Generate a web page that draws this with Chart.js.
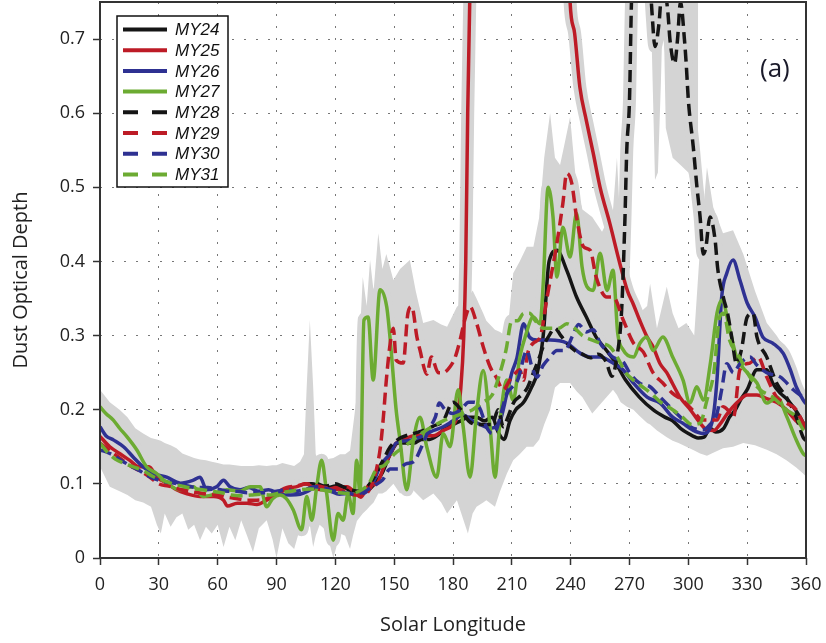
<!DOCTYPE html>
<html>
<head>
<meta charset="utf-8">
<script src="https://cdn.jsdelivr.net/npm/chart.js@4.4.1/dist/chart.umd.min.js"></script>
<style>
body { margin: 0; background: #fff; }
canvas { display: block; }
</style>
</head>
<body>
<canvas id="dust" width="826" height="643"></canvas>
<script>
// [Ls, tau] pairs
const my24 = [[104,0.10],[108,0.10],[112,0.097],[116,0.095],[120,0.097],[124,0.096],[128,0.09],[132,0.088],[136,0.09],[140,0.1],[144,0.115],[148,0.14],[152,0.155],[156,0.155],[160,0.155],[164,0.16],[168,0.16],[172,0.165],[176,0.175],[180,0.18],[184,0.185],[188,0.19],[192,0.19],[196,0.185],[200,0.19],[203,0.17],[206,0.16],[209,0.185],[212,0.2],[216,0.21],[220,0.23],[223,0.25],[226,0.3],[229,0.4],[233,0.415],[238,0.388],[243,0.352],[248,0.325],[253,0.298],[258,0.281],[263,0.263],[268,0.24],[275,0.217],[282,0.2],[288,0.19],[292,0.185],[296,0.175],[300,0.168],[305,0.162],[308,0.163],[311,0.175],[314,0.17],[318,0.175],[321,0.19],[324,0.2],[327,0.215],[330,0.227],[335,0.254],[340,0.254],[343,0.236],[347,0.222],[350,0.215],[353.5,0.204],[357,0.19],[360,0.175]];

const my25 = [[0,0.164],[5,0.15],[10,0.141],[15,0.132],[20,0.123],[25,0.123],[29,0.109],[34,0.101],[39,0.092],[44,0.087],[51,0.083],[58,0.083],[63,0.078],[65,0.07],[70,0.074],[75,0.074],[80,0.072],[85,0.078],[90,0.085],[95,0.093],[100,0.096],[105,0.1],[110,0.093],[115,0.092],[120,0.095],[126,0.096],[130,0.088],[133,0.082],[137,0.098],[141,0.1],[145,0.125],[148,0.14],[151,0.155],[155,0.16],[160,0.165],[165,0.165],[170,0.165],[175,0.172],[180,0.18],[182,0.19],[184,0.23],[185.5,0.3],[186.5,0.4],[187.5,0.6],[188.6,0.76],[190,1.0],[215,1.6],[237,1.0],[239.7,0.75],[242,0.708],[244.7,0.635],[248,0.59],[251.5,0.546],[255,0.5],[260,0.451],[265,0.398],[269,0.36],[272,0.342],[275,0.322],[279,0.298],[282,0.285],[285.6,0.262],[289,0.25],[292,0.235],[295.7,0.217],[301,0.2],[306,0.182],[309.4,0.173],[313,0.172],[316,0.18],[320,0.195],[325,0.21],[330,0.22],[335,0.22],[340,0.215],[345,0.21],[350,0.2],[355,0.185],[360,0.175]];

const my26 = [[0,0.177],[3,0.165],[7,0.159],[12,0.15],[17,0.136],[22,0.123],[27,0.114],[34,0.109],[41,0.101],[47.6,0.105],[51,0.109],[54.4,0.092],[59.5,0.096],[63,0.105],[66.3,0.096],[71.4,0.092],[76,0.095],[81,0.09],[86,0.092],[92,0.086],[97,0.085],[102,0.086],[106,0.09],[110,0.096],[114,0.095],[118,0.09],[122,0.086],[127,0.087],[134,0.087],[139,0.1],[143,0.125],[148,0.141],[151,0.155],[156,0.158],[160,0.16],[165,0.165],[170,0.172],[175,0.177],[180,0.185],[185,0.193],[190,0.185],[194,0.18],[199,0.175],[204,0.185],[207.5,0.222],[210,0.25],[212.6,0.27],[216,0.316],[219,0.298],[222.7,0.294],[229.5,0.294],[238,0.29],[245,0.276],[250,0.271],[255,0.271],[261.6,0.263],[266.7,0.254],[272,0.236],[279,0.217],[285.6,0.209],[292,0.19],[297,0.182],[302,0.173],[307.5,0.168],[312,0.182],[314.6,0.24],[317,0.352],[319.6,0.384],[322.8,0.402],[326.3,0.375],[330,0.344],[334,0.325],[338,0.298],[343,0.29],[348.4,0.276],[352,0.254],[355,0.231],[358.6,0.213],[360,0.208]];

const my27 = [[0,0.204],[3,0.195],[6.8,0.186],[10,0.175],[13.6,0.164],[18.7,0.146],[23.8,0.123],[28.9,0.114],[34,0.101],[40.8,0.092],[47.6,0.096],[52.7,0.083],[59.5,0.087],[64.6,0.092],[71.4,0.09],[76.5,0.096],[81.6,0.096],[85,0.069],[88,0.08],[91.8,0.085],[95,0.08],[98.5,0.065],[102.8,0.038],[105.4,0.083],[108,0.051],[110.5,0.096],[113,0.132],[115.6,0.087],[118.9,0.024],[121.4,0.06],[124,0.051],[126.5,0.087],[129,0.06],[130.9,0.132],[132.6,0.087],[134.6,0.321],[136.7,0.325],[139.3,0.24],[142.8,0.362],[146.2,0.339],[148,0.294],[151,0.2],[153,0.159],[156.4,0.092],[159.8,0.159],[163.2,0.19],[166.6,0.15],[171.7,0.109],[175,0.168],[178.5,0.15],[182.6,0.227],[185.2,0.177],[188.7,0.109],[192,0.195],[195.4,0.253],[198.9,0.177],[201.4,0.109],[204,0.186],[207.4,0.24],[210.7,0.213],[214,0.27],[217,0.3],[220.9,0.325],[224.4,0.316],[226,0.37],[228.5,0.5],[231,0.46],[233,0.379],[236,0.446],[239.7,0.406],[243,0.465],[245.8,0.393],[248.3,0.366],[251.5,0.361],[255,0.411],[258.5,0.361],[261.6,0.388],[264,0.303],[266.7,0.281],[272,0.271],[275.4,0.29],[278.8,0.298],[282,0.28],[287,0.298],[292,0.271],[297.3,0.24],[300.8,0.209],[304.3,0.231],[307.7,0.213],[311.2,0.262],[314.6,0.33],[317.1,0.348],[321.2,0.307],[324.6,0.271],[330,0.25],[335,0.236],[340,0.209],[345.2,0.217],[350.3,0.19],[354.4,0.163],[358.5,0.141],[360,0.138]];

const my28 = [[111,0.1],[115,0.097],[120,0.1],[124,0.096],[128,0.092],[132,0.09],[136,0.095],[140,0.11],[144,0.13],[148,0.15],[152,0.16],[156,0.165],[160,0.168],[165,0.172],[170,0.178],[175,0.185],[180,0.21],[184,0.2],[188,0.185],[192,0.18],[196,0.18],[200,0.18],[203,0.2],[205.7,0.177],[208,0.19],[211,0.21],[215,0.22],[218,0.23],[221,0.25],[223,0.263],[226,0.285],[229,0.3],[232,0.31],[235,0.3],[238,0.29],[242,0.28],[246,0.275],[250,0.27],[254,0.275],[258,0.265],[261,0.245],[263.5,0.27],[266,0.335],[267.7,0.46],[268.6,0.55],[270,0.618],[271,0.75],[273,0.85],[277,0.9],[280,0.8],[281.5,0.735],[283,0.69],[285,0.72],[287,0.78],[289.6,0.735],[290.6,0.7],[293,0.667],[294.5,0.7],[296,0.75],[298,0.7],[299,0.663],[300,0.618],[302.5,0.555],[304.4,0.5],[306,0.46],[307.6,0.41],[309,0.42],[311,0.46],[313.6,0.43],[315,0.39],[318,0.35],[320,0.33],[322,0.3],[324.6,0.262],[327,0.28],[330,0.325],[333,0.33],[335,0.298],[340,0.271],[345,0.236],[350,0.217],[355,0.19],[358.5,0.163],[360,0.158]];

const my29 = [[0,0.155],[5,0.145],[10,0.135],[15,0.125],[20,0.118],[25,0.11],[30,0.1],[35,0.097],[40,0.093],[45,0.09],[50,0.088],[55,0.086],[60,0.085],[65,0.082],[70,0.08],[75,0.078],[80,0.078],[85,0.08],[90,0.088],[95,0.095],[100,0.097],[105,0.1],[110,0.098],[115,0.095],[120,0.093],[125,0.09],[130,0.085],[134,0.085],[138,0.095],[141,0.12],[143,0.15],[144.5,0.19],[146,0.24],[148,0.29],[149.6,0.31],[151,0.267],[154.6,0.263],[157,0.33],[159,0.339],[161.6,0.298],[163.2,0.28],[166.6,0.248],[169,0.271],[172.5,0.25],[175,0.25],[178.5,0.258],[181,0.27],[183.6,0.294],[186,0.321],[188.7,0.339],[192,0.317],[195.4,0.285],[198.9,0.258],[202,0.244],[205.6,0.227],[209,0.24],[212,0.25],[214,0.254],[216,0.24],[218,0.275],[221,0.29],[224.4,0.298],[228,0.352],[233,0.425],[236,0.478],[238,0.519],[240.6,0.505],[243,0.46],[246.5,0.42],[250,0.415],[253,0.379],[258.4,0.352],[261.7,0.352],[266.8,0.321],[272,0.29],[277,0.278],[282,0.25],[287,0.236],[292,0.222],[297,0.213],[302,0.2],[307.5,0.186],[311,0.186],[314.6,0.186],[317.7,0.204],[320,0.2],[323,0.19],[326.3,0.254],[331.4,0.263],[335.5,0.271],[340,0.244],[345,0.217],[350,0.209],[355,0.2],[358.6,0.182],[360,0.178]];

const my30 = [[0,0.146],[5,0.141],[10,0.133],[15,0.125],[20,0.118],[25,0.11],[30,0.105],[35,0.102],[40,0.1],[45,0.097],[50,0.095],[55,0.095],[60,0.093],[65,0.09],[70,0.09],[75,0.088],[80,0.088],[85,0.088],[90,0.09],[95,0.092],[100,0.09],[105,0.093],[110,0.096],[115,0.094],[120,0.09],[125,0.088],[130,0.086],[135,0.09],[140,0.098],[144,0.105],[148,0.12],[152,0.12],[156,0.127],[160,0.13],[164,0.15],[168,0.175],[171,0.19],[173,0.209],[176,0.2],[180,0.195],[184,0.2],[188,0.21],[191,0.21],[194,0.2],[197,0.177],[200,0.168],[202,0.172],[205,0.2],[207.5,0.222],[210,0.23],[213,0.24],[217.7,0.28],[220,0.26],[222.7,0.244],[226,0.26],[229.5,0.271],[233,0.28],[237,0.28],[241,0.3],[244,0.315],[248,0.305],[251.5,0.308],[255,0.29],[258,0.28],[262,0.27],[266.7,0.265],[270,0.25],[275,0.236],[280.5,0.231],[285.6,0.217],[292,0.2],[296,0.19],[301,0.177],[307.5,0.173],[311,0.18],[314.6,0.195],[317,0.227],[319.6,0.262],[323,0.25],[326.3,0.262],[331.4,0.271],[335,0.26],[340,0.25],[347,0.244],[353.5,0.227],[358.6,0.217],[360,0.215]];

const my31 = [[0,0.155],[4,0.142],[8,0.133],[12,0.128],[17,0.123],[22,0.118],[27,0.11],[32,0.105],[37,0.1],[42,0.097],[47,0.094],[52,0.092],[57,0.09],[62,0.088],[67,0.085],[72,0.084],[77,0.085],[82,0.086],[87,0.085],[92,0.088],[97,0.09],[102,0.092],[107,0.093],[112,0.092],[117,0.09],[122,0.088],[127,0.087],[132,0.09],[137,0.1],[141,0.12],[145,0.125],[150,0.14],[155,0.15],[160,0.16],[165,0.17],[170,0.178],[175,0.185],[180,0.19],[185,0.195],[190,0.2],[195,0.21],[200,0.22],[204,0.25],[207,0.28],[210,0.32],[213,0.32],[216,0.33],[219,0.33],[222,0.32],[226,0.31],[230,0.31],[234,0.31],[238,0.316],[242,0.31],[246,0.3],[250,0.295],[255,0.29],[260,0.285],[264,0.27],[268,0.25],[272,0.24],[276,0.232],[281,0.222],[286,0.21],[292,0.2],[297,0.19],[302,0.18],[306,0.182],[309.5,0.213],[313,0.25],[316,0.325],[318,0.33],[321,0.294],[326,0.271],[331.4,0.244],[336.6,0.227],[343,0.217],[350,0.2],[355,0.19],[358.6,0.173],[360,0.17]];

// grey envelope of all years: Ls, upper, lower
const bandLs = [0,5,10,14,18,22,26,29,31,33,36,39,42,45,48,51,54,57,60,63,66,69,72,75,78,81,85,88,90,93,96,99,102,104,105.4,107,108.7,110,112,114,117,119,122.4,125,127.5,129,131,132.5,134,136,137.7,139.5,141.9,144,146,149.6,153,158,161,164.8,170,174,177,182,187.6,190,192,195.4,197,201.4,204,207.5,210.7,214,217.6,221,224,226.5,229.5,232,234.6,237,239.7,243,246,251,256,261.6,263.6,265.5,268.7,272,275,279,280.5,284,289,292,295,299,303,306,309.5,312.7,317.7,322.8,328,334,340,345,350,355,358.5,360];
const bandHigh = [0.227,0.21,0.2,0.19,0.175,0.168,0.162,0.16,0.158,0.155,0.152,0.148,0.141,0.138,0.135,0.133,0.132,0.13,0.128,0.126,0.126,0.125,0.124,0.124,0.124,0.125,0.124,0.125,0.125,0.128,0.126,0.124,0.13,0.14,0.231,0.321,0.231,0.14,0.13,0.132,0.134,0.135,0.14,0.14,0.145,0.177,0.22,0.3,0.379,0.34,0.402,0.36,0.438,0.39,0.41,0.375,0.39,0.402,0.36,0.317,0.321,0.315,0.312,0.339,0.35,0.361,0.35,0.33,0.32,0.308,0.305,0.298,0.384,0.4,0.42,0.42,0.46,0.54,0.6,0.54,0.53,0.56,0.595,0.5,0.47,0.46,0.44,0.47,0.54,0.44,0.38,0.34,0.33,0.34,0.37,0.31,0.366,0.33,0.31,0.317,0.3,0.42,0.527,0.473,0.438,0.442,0.41,0.36,0.317,0.3,0.28,0.25,0.227,0.22];
const bandLow = [0.123,0.096,0.09,0.085,0.078,0.075,0.069,0.045,0.033,0.06,0.042,0.055,0.06,0.038,0.045,0.024,0.042,0.033,0.045,0.015,0.042,0.024,0.051,0.03,0.008,0.04,0.051,0.025,0.0,0.04,0.02,0.012,0.04,0.05,0.06,0.045,0.015,0.03,0.045,0.04,0.02,0.0,0.033,0.03,0.012,0.03,0.05,0.055,0.06,0.065,0.07,0.075,0.087,0.087,0.09,0.1,0.087,0.096,0.088,0.078,0.087,0.075,0.06,0.078,0.033,0.06,0.069,0.075,0.078,0.069,0.09,0.114,0.132,0.14,0.15,0.15,0.16,0.18,0.2,0.23,0.236,0.236,0.236,0.225,0.217,0.195,0.21,0.227,0.22,0.21,0.204,0.2,0.192,0.182,0.18,0.172,0.163,0.158,0.155,0.15,0.145,0.141,0.138,0.142,0.148,0.15,0.155,0.152,0.146,0.14,0.132,0.122,0.114,0.11];

// grey spread around the MY28 storm peak
const stormLs = [280.5,282,283,284.5,286,287.2,288.5,292,296,300,303,305];
const stormHigh = [0.8,0.8,0.8,0.8,0.8,0.8,0.8,0.8,0.8,0.8,0.8,0.8];
const stormLow = [0.78,0.62,0.51,0.52,0.64,0.76,0.58,0.54,0.53,0.52,0.49,0.46];

const yearLabels = ['MY24','MY25','MY26','MY27','MY28','MY29','MY30','MY31'];
const yearData = [my24, my25, my26, my27, my28, my29, my30, my31];
const xTicks = [0, 30, 60, 90, 120, 150, 180, 210, 240, 270, 300, 330, 360];

const black = '#151515', red = '#bd1b26', blue = '#2e3192', green = '#6cab32', grey = '#d4d4d4';
const lineColors = [black, red, blue, green, black, red, blue, green];
const dashed = [false, false, false, false, true, true, true, true];

const pts = arr => arr.map(p => ({ x: p[0], y: p[1] }));
const zip = (xs, ys) => xs.map((x, i) => ({ x: x, y: ys[i] }));

const datasets = [];
// grey envelope pairs
datasets.push({ label: 'bandHigh', data: zip(bandLs, bandHigh), fill: '+1', backgroundColor: grey, borderWidth: 0, pointRadius: 0, order: 30, clip: 0 });
datasets.push({ label: 'bandLow', data: zip(bandLs, bandLow), fill: false, borderWidth: 0, pointRadius: 0, order: 30, clip: 0 });
datasets.push({ label: 'stormHigh', data: zip(stormLs, stormHigh), fill: '+1', backgroundColor: grey, borderWidth: 0, pointRadius: 0, order: 30, clip: 0 });
datasets.push({ label: 'stormLow', data: zip(stormLs, stormLow), fill: false, borderWidth: 0, pointRadius: 0, order: 30, clip: 0 });

// grey halo under each year
yearData.forEach((d, i) => {
    datasets.push({
        label: yearLabels[i] + ' halo', data: pts(d), borderColor: grey, borderWidth: 13,
        pointRadius: 0, fill: false, cubicInterpolationMode: 'monotone', order: 20, clip: 0,
        borderJoinStyle: 'round', borderCapStyle: 'round'
    });
});

yearData.forEach((d, i) => {
    datasets.push({
        label: yearLabels[i], data: pts(d), borderColor: lineColors[i], borderWidth: 3.5,
        borderDash: dashed[i] ? [12, 6] : [], pointRadius: 0, fill: false,
        cubicInterpolationMode: 'monotone', order: 9 - i, clip: 0, borderJoinStyle: 'round'
    });
});

const extras = {
    id: 'extras',
    afterDraw(chart) {
        const ctx = chart.ctx;
        const a = chart.chartArea;
        ctx.save();
        ctx.strokeStyle = '#333';
        ctx.lineWidth = 2;
        ctx.strokeRect(a.left, a.top, a.right - a.left, a.bottom - a.top);

        // legend box
        const lx = a.left + 17, ly = a.top + 14, lw = 111, lh = 171;
        ctx.fillStyle = '#fff';
        ctx.fillRect(lx, ly, lw, lh);
        ctx.strokeStyle = '#111';
        ctx.lineWidth = 1.5;
        ctx.strokeRect(lx, ly, lw, lh);
        ctx.font = 'italic 17px "Liberation Sans", Arial, sans-serif';
        ctx.textBaseline = 'middle';
        yearLabels.forEach((lab, i) => {
            const y = ly + 13.5 + i * 20.7;
            ctx.beginPath();
            ctx.strokeStyle = lineColors[i];
            ctx.lineWidth = 4;
            ctx.setLineDash(dashed[i] ? [15, 14] : []);
            ctx.moveTo(lx + 6, y);
            ctx.lineTo(lx + 50, y);
            ctx.stroke();
            ctx.setLineDash([]);
            ctx.fillStyle = '#111';
            ctx.fillText(lab, lx + 58, y + 1);
        });

        ctx.font = '26px "Open Sans", sans-serif';
        ctx.fillStyle = '#1a1a2a';
        ctx.textBaseline = 'alphabetic';
        ctx.fillText('(a)', a.right - 46, a.top + 75);
        ctx.restore();
    }
};

const tickFont = { family: '"Open Sans", sans-serif', size: 18 };
const titleFont = { family: '"Open Sans", sans-serif', size: 20 };

new Chart(document.getElementById('dust'), {
    type: 'line',
    data: { datasets: datasets },
    options: {
        responsive: false,
        animation: false,
        layout: { padding: { top: 2, right: 20, bottom: 0, left: 0 }, autoPadding: false },
        plugins: { legend: { display: false }, tooltip: { enabled: false } },
        scales: {
            x: {
                type: 'linear', min: 0, max: 360,
                afterBuildTicks: s => { s.ticks = xTicks.map(v => ({ value: v })); },
                afterFit: s => { s.height = 85; s.paddingLeft = 0; s.paddingRight = 0; },
                ticks: { font: tickFont, color: '#222', padding: 9, maxRotation: 0, callback: v => String(v) },
                grid: { color: '#777', tickColor: '#333', tickLength: 7, tickWidth: 1.5, tickBorderDash: [] },
                border: { display: false, dash: [2, 10] },
                title: { display: true, text: 'Solar Longitude', font: titleFont, color: '#222', padding: { top: 0, bottom: 6 } }
            },
            y: {
                type: 'linear', min: 0, max: 0.75,
                afterFit: s => { s.width = 100; s.paddingTop = 0; s.paddingBottom = 0; },
                ticks: { stepSize: 0.1, includeBounds: false, font: tickFont, color: '#222', padding: 8,
                    callback: v => v === 0 ? '0' : v.toFixed(1) },
                grid: { color: '#777', tickColor: '#333', tickLength: 7, tickWidth: 1.5, tickBorderDash: [] },
                border: { display: false, dash: [2, 10] },
                title: { display: true, text: 'Dust Optical Depth', font: titleFont, color: '#222', padding: { top: 9, bottom: 0 } }
            }
        }
    },
    plugins: [extras]
});
</script>
</body>
</html>
